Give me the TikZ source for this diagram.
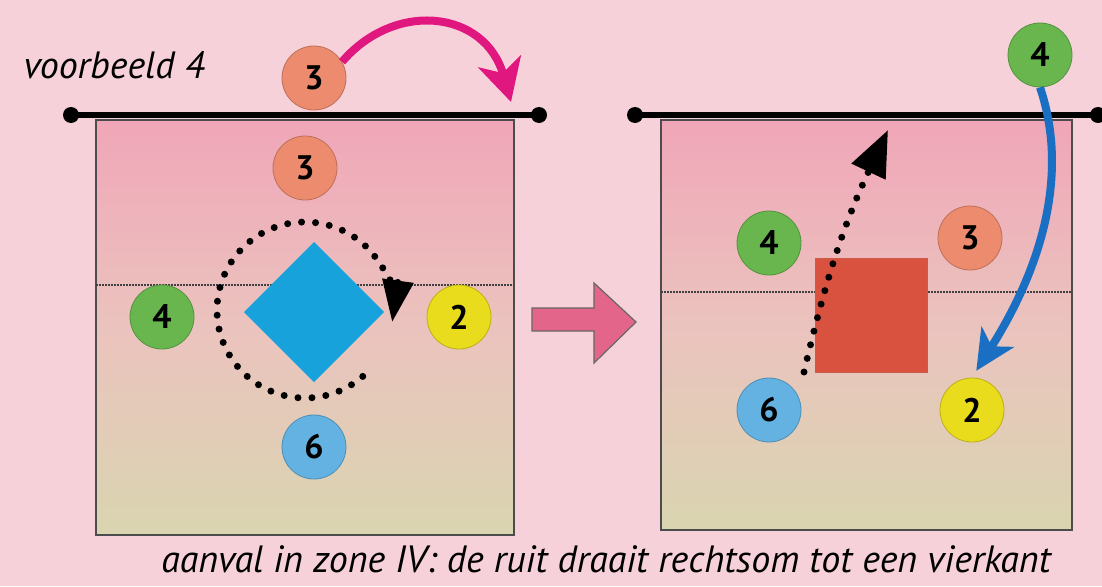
\documentclass[tikz,border=0pt]{standalone}
\usepackage{fontspec}
\setmainfont{PT Sans}
\usetikzlibrary{arrows.meta}

\definecolor{bgpink}{HTML}{F7D1DA}
\definecolor{courttop}{HTML}{F0A6B8}
\definecolor{courtmid}{HTML}{EBC3BE}
\definecolor{courtbot}{HTML}{D9D5B0}
\definecolor{pl3}{HTML}{EC8B6D}
\definecolor{pl4}{HTML}{69B64F}
\definecolor{pl2}{HTML}{E9DC1C}
\definecolor{pl6}{HTML}{63B2E2}
\definecolor{ruit}{HTML}{17A2DC}
\definecolor{vierkant}{HTML}{D9523F}
\definecolor{magenta}{HTML}{E0177F}
\definecolor{bluearr}{HTML}{1B6FC2}
\definecolor{bigarr}{HTML}{E3668A}

\begin{document}
\begin{tikzpicture}[x=1pt,y=-1pt,
  player/.style={circle,minimum size=64pt,inner sep=0pt,draw=#1!80!black,line width=0.8pt,fill=#1,font=\fontsize{34}{34}\selectfont\bfseries},
  court/.style={draw=black!70,line width=2.5pt,top color=courttop,bottom color=courtbot,middle color=courtmid},
  net/.style={line width=6pt},
  attack/.style={densely dotted,line width=2pt,black!75},
  bigdots/.style={line width=7pt,line cap=round,dash pattern=on 0pt off 14pt},
  label/.style={font=\fontsize{38}{38}\selectfont\itshape}]
\useasboundingbox (0,0) rectangle (1102,586);
\fill[bgpink] (0,0) rectangle (1102,586);

% left court
\draw[court] (96,120) rectangle (514,535);
\draw[attack] (96,285) -- (514,285);
\coordinate (nl1) at (71,115);
\coordinate (nl2) at (539,115);
\draw[net] (nl1) -- (nl2);
\fill (nl1) circle (8);
\fill (nl2) circle (8);

% right court
\draw[court] (661,120) rectangle (1072,530);
\draw[attack] (661,292) -- (1072,292);
\coordinate (nr1) at (635,115);
\coordinate (nr2) at (1098,115);
\draw[net] (nr1) -- (nr2);
\fill (nr1) circle (8);
\fill (nr2) circle (8);

% ruit and vierkant
\fill[ruit] (314,242) -- (384,312) -- (314,382) -- (244,312) -- cycle;
\draw[vierkant!80!gray,fill=vierkant] (815,258) rectangle (927,372);

% big arrow
\draw[black!60,fill=bigarr,line width=1.2pt] (532,308) -- (594,308) -- (594,283) -- (636,322)
  -- (594,363) -- (594,331) -- (532,331) -- cycle;

% players left
\node[player=pl3] (p3out) at (314,78) {3};
\node[player=pl3] (p3in) at (305,168) {3};
\node[player=pl4] (p4) at (162,317) {4};
\node[player=pl2] (p2) at (459,317) {2};
\node[player=pl6] (p6) at (314,447) {6};

% players right
\node[player=pl4] (q4out) at (1040,55) {4};
\node[player=pl4] (q4) at (769,243) {4};
\node[player=pl3] (q3) at (970,238) {3};
\node[player=pl6] (q6) at (769,410) {6};
\node[player=pl2] (q2) at (972,410) {2};

% rotation
\draw[bigdots,-{Triangle[length=42pt,width=30pt]}] (305,310) ++(-49:88pt) arc[start angle=-49,end angle=-368,radius=88pt];
\coordinate (runstart) at (804,372);
\coordinate (runend) at (888,130);
\draw[bigdots,-{Triangle[length=46pt,width=36pt]}] (runstart) to[bend left=6] (runend);

% switches
\coordinate (pinkend) at (511,102);
\draw[magenta,line width=8pt,-{Stealth[length=42pt,width=44pt,inset=12pt]}] (p3out.30) .. controls (395,0) and (485,10) .. (pinkend);
\draw[bluearr,line width=8pt,-{Stealth[length=40pt,width=38pt,inset=11pt]},shorten >=8pt] (q4out.south) .. controls (1068,170) and (1045,262) .. (q2.north);

% texts
\node[label,anchor=base west] (title) at (20,78) {voorbeeld 4};
\node[label,anchor=base] (caption) at (606,572) {aanval in zone IV: de ruit draait rechtsom tot een vierkant};
\end{tikzpicture}
\end{document}
